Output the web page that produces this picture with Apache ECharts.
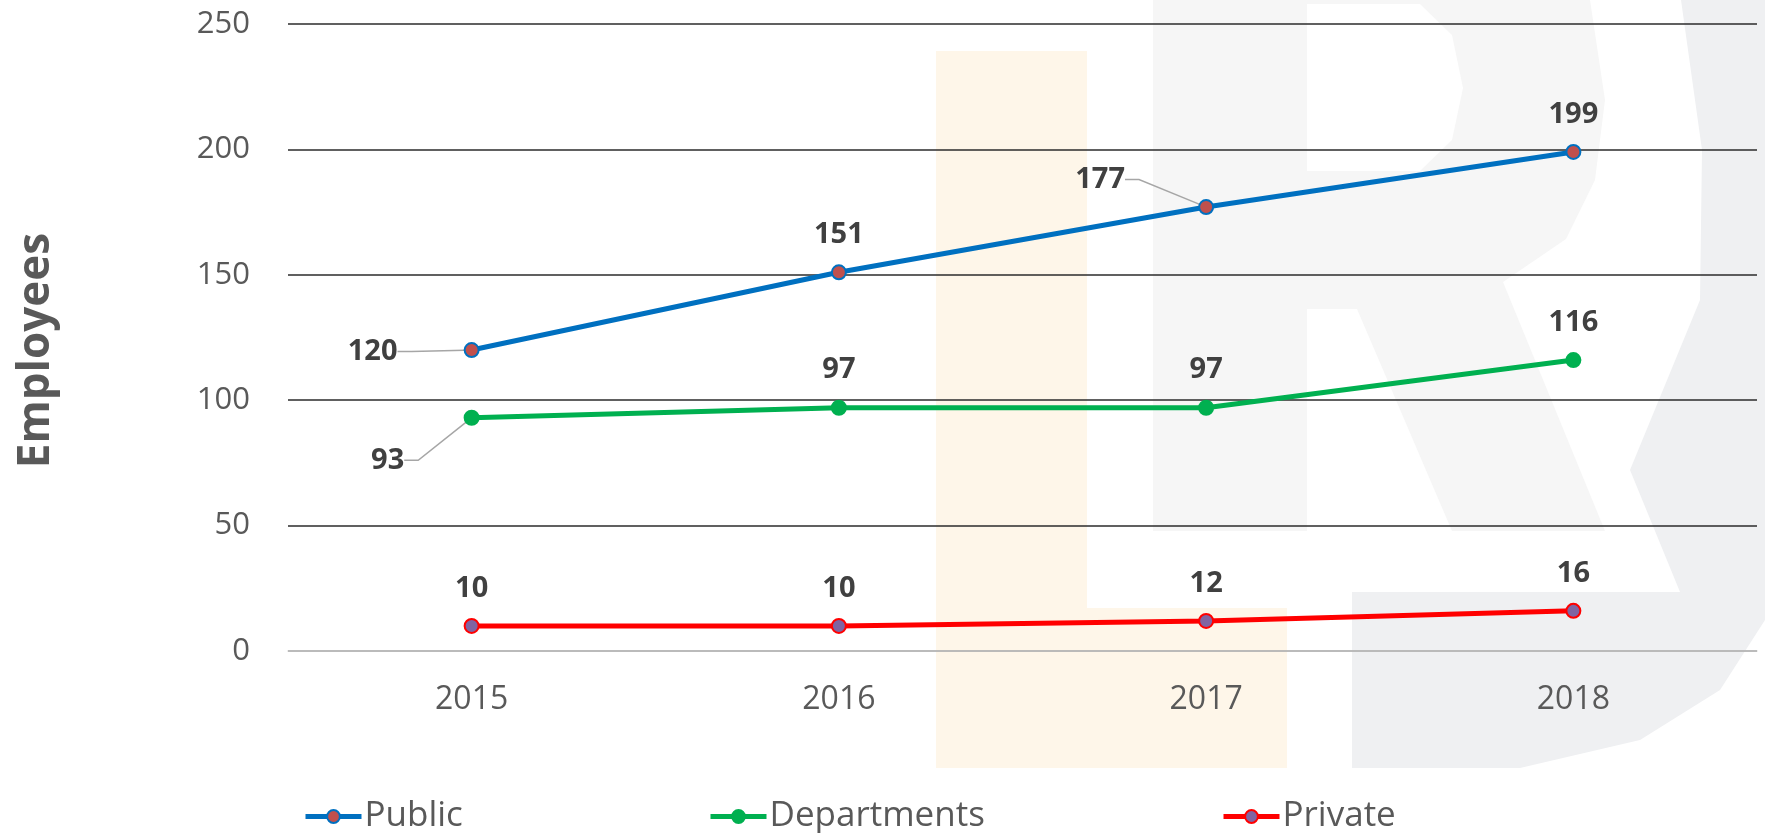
<!DOCTYPE html>
<html>
<head>
<meta charset="utf-8">
<title>Employees</title>
<script src="https://cdn.jsdelivr.net/npm/echarts@6/dist/echarts.min.js"></script>
<style>
  html, body { margin: 0; padding: 0; background: #fff; }
  #chart { width: 1765px; height: 833px; }
</style>
</head>
<body>
<div id="chart"></div>
<script>
  // data
  var years = ['2015', '2016', '2017', '2018'];
  var publicVals = [120, 151, 177, 199];
  var deptVals = [93, 97, 97, 116];
  var privateVals = [10, 10, 12, 16];
  var yTicks = [0, 50, 100, 150, 200, 250];
  var seriesNames = ['Public', 'Departments', 'Private'];

  // labels moved off the point (with a leader line), by index
  var publicMoved = { 0: [-99, 39], 2: [-106, 10] };
  var deptMoved = { 0: [-84, 80] };

  function withGuides(vals, moved) {
    return vals.map(function (v, i) {
      return moved[i] ? { value: v, labelLine: { show: true } } : v;
    });
  }
  function layoutFor(moved) {
    return function (p) {
      var m = moved[p.dataIndex];
      return m ? { dx: m[0], dy: m[1] } : {};
    };
  }

  var myChart = echarts.init(document.getElementById('chart'));

  // faint "LR" watermark behind the plot
  var watermark = [
    { type: 'rect', z: -10, silent: true, shape: { x: 936, y: 51, width: 151, height: 717 }, style: { fill: '#FEF6E9' } },
    { type: 'rect', z: -10, silent: true, shape: { x: 936, y: 608, width: 351, height: 160 }, style: { fill: '#FEF6E9' } },
    { type: 'polygon', z: -10, silent: true,
      shape: { points: [[1765, 0], [1765, 620], [1720, 690], [1640, 740], [1520, 768], [1352, 768],
                        [1352, 592], [1680, 592], [1630, 470], [1700, 300], [1702, 150], [1681, 0]] },
      style: { fill: '#EFF0F2' } },
    { type: 'polygon', z: -9, silent: true,
      shape: { points: [[1153, 0], [1590, 0], [1605, 100], [1595, 180], [1566, 239], [1503, 282],
                        [1605, 531], [1452, 531], [1357, 309], [1307, 309], [1307, 531], [1153, 531]] },
      style: { fill: '#F6F6F6' } },
    { type: 'polygon', z: -8, silent: true,
      shape: { points: [[1307, 4], [1420, 4], [1452, 35], [1463, 88], [1452, 140], [1420, 171], [1307, 171]] },
      style: { fill: '#FFFFFF' } }
  ];

  var labelCommon = {
    show: true,
    position: 'top',
    distance: 15,
    fontFamily: 'Open Sans',
    fontWeight: 'bold',
    fontSize: 29,
    color: '#404040'
  };
  var guide = { show: false, length2: 14, smooth: false, lineStyle: { color: '#A6A6A6', width: 1.5 } };

  // one legend per item so each sits where the original puts it
  var legendLeft = [298, 703, 1216];
  var legends = seriesNames.map(function (n, i) {
    return {
      top: 794,
      left: legendLeft[i],
      itemWidth: 56,
      itemHeight: 16,
      itemGap: 4,
      lineStyle: { width: 5 },
      textStyle: { fontFamily: 'Open Sans', fontSize: 35, color: '#595959', padding: [0, 0, 0, -2] },
      data: [n]
    };
  });

  myChart.setOption({
    backgroundColor: '#fff',
    animation: false,
    graphic: watermark,
    grid: { left: 288, right: 8, top: 24, bottom: 182 },
    legend: legends,
    xAxis: {
      type: 'category',
      data: years,
      boundaryGap: true,
      axisLine: { lineStyle: { color: '#D9D9D9', width: 1.5 } },
      axisTick: { show: false },
      axisLabel: { margin: 33, fontFamily: 'Open Sans', fontSize: 32, color: '#595959' }
    },
    yAxis: {
      type: 'value',
      min: yTicks[0],
      max: yTicks[yTicks.length - 1],
      interval: 50,
      name: 'Employees',
      nameLocation: 'middle',
      nameGap: 230,
      nameTextStyle: { fontFamily: 'Open Sans', fontWeight: 'bold', fontSize: 44, color: '#595959', padding: [0, 26, 0, 0] },
      axisLine: { show: false },
      axisTick: { show: false },
      axisLabel: { margin: 38, fontFamily: 'Open Sans', fontSize: 31, color: '#595959' },
      splitLine: { lineStyle: { color: '#2b2b2b', width: 1.5 } }
    },
    series: [
      {
        name: seriesNames[0],
        type: 'line',
        data: withGuides(publicVals, publicMoved),
        symbol: 'circle',
        symbolSize: 14,
        lineStyle: { color: '#0070C0', width: 5 },
        itemStyle: { color: '#C0504D', borderColor: '#0070C0', borderWidth: 2 },
        label: labelCommon,
        labelLine: guide,
        labelLayout: layoutFor(publicMoved)
      },
      {
        name: seriesNames[1],
        type: 'line',
        data: withGuides(deptVals, deptMoved),
        symbol: 'circle',
        symbolSize: 14,
        lineStyle: { color: '#00B050', width: 5 },
        itemStyle: { color: '#00B050', borderColor: '#00B050', borderWidth: 2 },
        label: labelCommon,
        labelLine: guide,
        labelLayout: layoutFor(deptMoved)
      },
      {
        name: seriesNames[2],
        type: 'line',
        data: privateVals,
        symbol: 'circle',
        symbolSize: 14,
        lineStyle: { color: '#FF0000', width: 5 },
        itemStyle: { color: '#8064A2', borderColor: '#FF0000', borderWidth: 2 },
        label: labelCommon
      }
    ]
  });
</script>
</body>
</html>
